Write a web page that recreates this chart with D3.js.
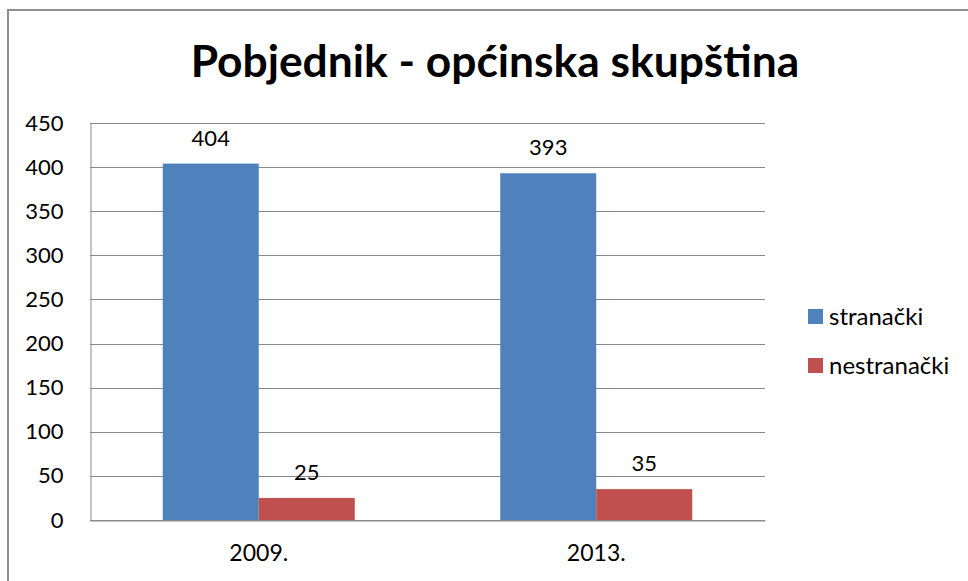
<!DOCTYPE html>
<html>
<head>
<meta charset="utf-8">
<script src="https://cdn.jsdelivr.net/npm/d3@7"></script>
<style>
  body { margin: 0; background: #fff; }
  text { font-family: Lato, "Open Sans", sans-serif; fill: #000; }
</style>
</head>
<body>
<div id="chart"></div>
<script>

var width = 968;
var height = 581;

// data
var years = ["2009.", "2013."];
var series = ["stranački", "nestranački"];
var stranacki = [404, 393];
var nestranacki = [25, 35];
var yTicks = [0, 50, 100, 150, 200, 250, 300, 350, 400, 450];
var colors = ["#4f81bd", "#c0504d"];
var title = "Pobjednik - općinska skupština";

var plot = { left: 90, right: 765, top: 123, bottom: 520 };

var svg = d3.select("#chart")
    .append("svg")
        .attr("width", width)
        .attr("height", height)
        ;

// frame (only top and left edges visible)
svg.append("path")
    .attr("d", "M8," + height + "V10H" + width)
    .attr("fill", "none")
    .attr("stroke", "#8e8e8e")
    .attr("stroke-width", 2)
    ;

var t = svg.append("text")
    .attr("x", 495)
    .attr("y", 77)
    .attr("text-anchor", "middle")
    .attr("font-weight", "bold")
    .attr("font-size", 40)
    .text(title)
    ;
// fit title to its width in the picture
var tw = t.node().getComputedTextLength();
t.attr("font-size", 40 * 609 / tw);

var x0 = d3.scaleBand()
    .domain(years)
    .range([plot.left, plot.right])
    .paddingInner(0)
    .paddingOuter(0)
    ;

var x1 = d3.scaleBand()
    .domain(series)
    .range([72.75, x0.bandwidth() - 72.75])
    ;

var y = d3.scaleLinear()
    .domain([0, 450])
    .range([plot.bottom, plot.top])
    ;

// grid lines
svg.append("g")
    .selectAll("line")
    .data(yTicks)
    .enter().append("line")
        .attr("x1", plot.left)
        .attr("x2", plot.right)
        .attr("y1", function(d) { return Math.round(y(d)) + 0.5; })
        .attr("y2", function(d) { return Math.round(y(d)) + 0.5; })
        .attr("stroke", "#8a8a8a")
        .attr("stroke-width", 1)
        ;

// y axis
var yAxis = svg.append("g")
    .attr("transform", "translate(" + (plot.left + 0.5) + ",0)")
    .call(d3.axisLeft(y).tickValues(yTicks).tickSize(0).tickPadding(27))
    ;
yAxis.select(".domain").attr("stroke", "#8a8a8a");
yAxis.selectAll("text")
    .attr("font-size", 22)
    .attr("fill", "#000")
    .attr("font-family", "Lato, 'Open Sans', sans-serif")
    ;

// x axis
var xAxis = svg.append("g")
    .attr("transform", "translate(0," + (plot.bottom + 0.5) + ")")
    .call(d3.axisBottom(x0).tickSize(0).tickPadding(24))
    ;
xAxis.select(".domain").attr("stroke", "#8a8a8a");
xAxis.selectAll("text")
    .attr("font-size", 23)
    .attr("fill", "#000")
    .attr("font-family", "Lato, 'Open Sans', sans-serif")
    ;

var rows = years.map(function(yr, i) {
    return { year: yr, values: [
        { key: series[0], value: stranacki[i] },
        { key: series[1], value: nestranacki[i] }
    ] };
});

var groups = svg.selectAll("g.year")
    .data(rows)
    .enter().append("g")
        .attr("class", "year")
        .attr("transform", function(d) { return "translate(" + x0(d.year) + ",0)"; })
        ;

groups.selectAll("rect")
    .data(function(d) { return d.values; })
    .enter().append("rect")
        .attr("x", function(d) { return x1(d.key); })
        .attr("y", function(d) { return y(d.value); })
        .attr("width", x1.bandwidth())
        .attr("height", function(d) { return y(0) - y(d.value); })
        .attr("fill", function(d, i) { return colors[i]; })
        ;

groups.selectAll("text.val")
    .data(function(d) { return d.values; })
    .enter().append("text")
        .attr("class", "val")
        .attr("x", function(d) { return x1(d.key) + x1.bandwidth() / 2; })
        .attr("y", function(d) { return y(d.value) - 18; })
        .attr("text-anchor", "middle")
        .attr("font-size", 22)
        .text(function(d) { return d.value; })
        ;

// legend
var legend = svg.selectAll("g.legend")
    .data(series)
    .enter().append("g")
        .attr("class", "legend")
        .attr("transform", function(d, i) { return "translate(808," + (309 + i * 49) + ")"; })
        ;

legend.append("rect")
    .attr("width", 15)
    .attr("height", 15)
    .attr("fill", function(d, i) { return colors[i]; })
    ;

legend.append("text")
    .attr("x", 21)
    .attr("y", 16)
    .attr("font-size", 24)
    .text(function(d) { return d; })
    ;

</script>
</body>
</html>
